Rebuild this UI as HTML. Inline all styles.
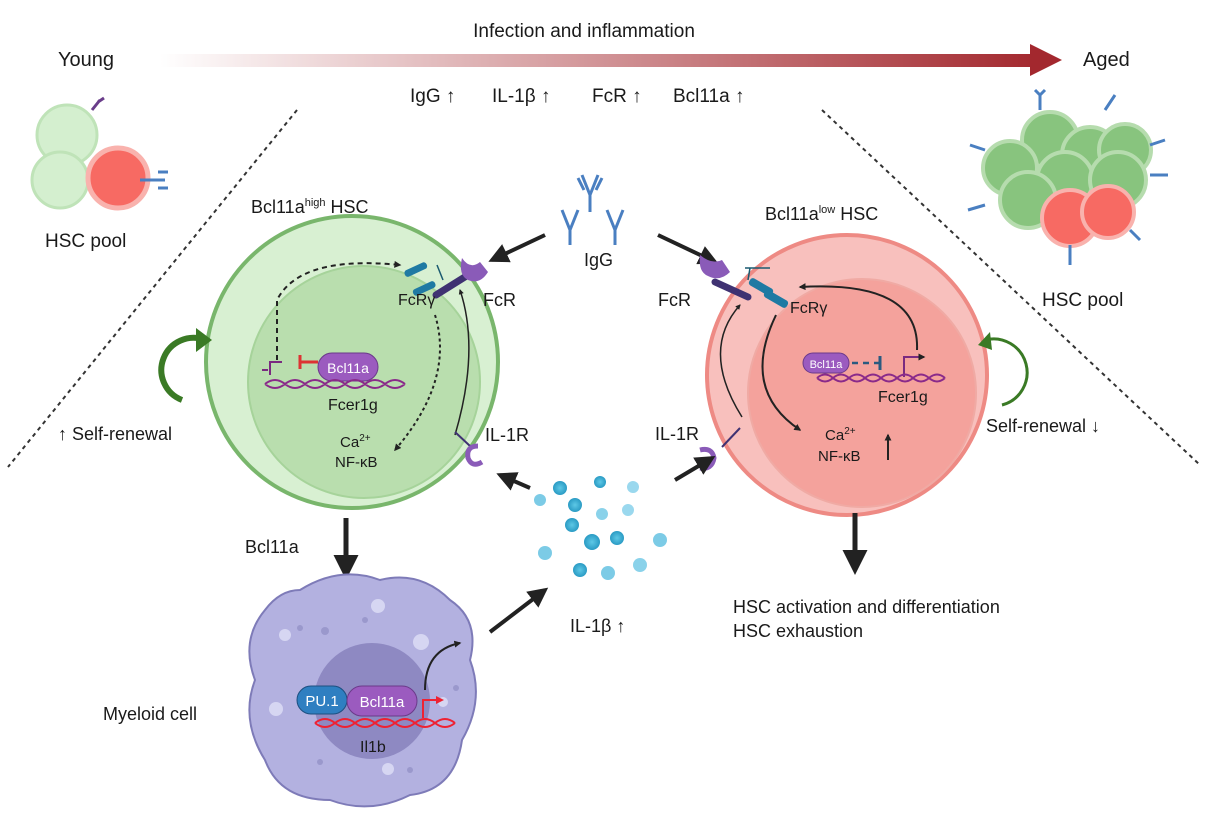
<!DOCTYPE html>
<html><head><meta charset="utf-8"><style>
html,body{margin:0;padding:0;background:#fff}
svg{display:block}
text{font-family:"Liberation Sans",sans-serif;fill:#1a1a1a}
</style></head><body>
<svg width="1205" height="821" viewBox="0 0 1205 821" xmlns="http://www.w3.org/2000/svg">
<defs>
<linearGradient id="tg" x1="0" x2="1"><stop offset="0" stop-color="#fff"/><stop offset="1" stop-color="#a3282e"/></linearGradient>
<marker id="ah" viewBox="0 0 10 10" refX="8" refY="5" markerWidth="5" markerHeight="5" orient="auto"><path d="M0,0L10,5L0,10z" fill="#222"/></marker>
<marker id="ah2" viewBox="0 0 10 10" refX="8" refY="5" markerWidth="3.5" markerHeight="3.5" orient="auto"><path d="M0,0L10,5L0,10z" fill="#222"/></marker>
<radialGradient id="dot"><stop offset="0" stop-color="#5ec8e6"/><stop offset="1" stop-color="#2a9bc4"/></radialGradient>
</defs>
<rect x="160" y="54" width="880" height="13" fill="url(#tg)"/>
<path d="M1030,44L1062,60L1030,76z" fill="#a3282e"/>
<text x="584" y="37" font-size="19" text-anchor="middle">Infection and inflammation</text>
<text x="58" y="66" font-size="20">Young</text>
<text x="1083" y="66" font-size="20">Aged</text>
<text x="410" y="102" font-size="19">IgG ↑</text>
<text x="492" y="102" font-size="19">IL-1β ↑</text>
<text x="592" y="102" font-size="19">FcR ↑</text>
<text x="673" y="102" font-size="19">Bcl11a ↑</text>
<path d="M297,110L8,467" stroke="#333" stroke-width="2" stroke-dasharray="4,4"/>
<path d="M822,110L1200,465" stroke="#333" stroke-width="2" stroke-dasharray="4,4"/>
<circle cx="67" cy="135" r="30" fill="#d4efcf" stroke="#bfe3b8" stroke-width="3"/>
<circle cx="60" cy="180" r="28" fill="#d4efcf" stroke="#bfe3b8" stroke-width="3"/>
<circle cx="118" cy="178" r="30" fill="#f76a63" stroke="#f9b2ad" stroke-width="5"/>
<path d="M92,110L100,100M98,102L104,98" stroke="#6a3d8a" stroke-width="3"/>
<path d="M140,180L165,180M158,172L168,172M158,188L168,188" stroke="#4a7fc1" stroke-width="3"/>
<text x="45" y="247" font-size="19">HSC pool</text>
<g stroke-width="4">
<circle cx="1050" cy="140" r="28" fill="#88c47e" stroke="#b6dcae"/>
<circle cx="1090" cy="155" r="28" fill="#88c47e" stroke="#b6dcae"/>
<circle cx="1125" cy="150" r="26" fill="#88c47e" stroke="#b6dcae"/>
<circle cx="1010" cy="168" r="27" fill="#88c47e" stroke="#b6dcae"/>
<circle cx="1065" cy="180" r="28" fill="#88c47e" stroke="#b6dcae"/>
<circle cx="1118" cy="180" r="28" fill="#88c47e" stroke="#b6dcae"/>
<circle cx="1028" cy="200" r="28" fill="#88c47e" stroke="#b6dcae"/>
<circle cx="1070" cy="218" r="28" fill="#f76a63" stroke="#f9b2ad"/>
<circle cx="1108" cy="212" r="26" fill="#f76a63" stroke="#f9b2ad"/>
</g>
<g stroke="#4a7fc1" stroke-width="3" fill="none">
<path d="M1040,110L1040,95M1035,90L1040,95L1045,90"/><path d="M1105,110L1115,95"/>
<path d="M985,150L970,145"/><path d="M1150,145L1165,140"/><path d="M985,205L968,210"/>
<path d="M1130,230L1140,240"/><path d="M1070,245L1070,265"/><path d="M1150,175L1168,175"/>
</g>
<text x="1042" y="306" font-size="19">HSC pool</text>
<circle cx="352" cy="362" r="146" fill="#d8f0d2" stroke="#79b66c" stroke-width="4"/>
<circle cx="364" cy="382" r="116" fill="#b9deae" stroke="#a6d39a" stroke-width="2"/>
<text x="251" y="213" font-size="18">Bcl11a<tspan font-size="11" dy="-7">high</tspan><tspan dy="7"> HSC</tspan></text>
<path d="M277,360L277,300Q300,255 400,265" stroke="#222" stroke-width="2" fill="none" stroke-dasharray="5,4" marker-end="url(#ah2)"/>
<path d="M435,315Q455,380 395,450" stroke="#222" stroke-width="2" fill="none" stroke-dasharray="3,3" marker-end="url(#ah2)"/>
<path d="M455,435Q480,350 460,290" stroke="#222" stroke-width="1.5" fill="none" marker-end="url(#ah2)"/>
<rect x="404" y="266" width="24" height="7" rx="3" fill="#1f7aa3" transform="rotate(-25 416 270)"/>
<rect x="412" y="285" width="24" height="7" rx="3" fill="#1f7aa3" transform="rotate(-25 424 288)"/>
<path d="M437,265L443,280" stroke="#1a5a70" stroke-width="1.5"/>
<path d="M436,295L468,275" stroke="#3f3272" stroke-width="7" stroke-linecap="round"/>
<path d="M462,258Q470,270 480,262L488,272Q480,285 468,280Q458,275 462,258z" fill="#8a5bb8"/>
<text x="398" y="305" font-size="16">FcRγ</text>
<text x="483" y="306" font-size="18">FcR</text>
<path d="M270,375L270,362L282,362" stroke="#7a2a80" stroke-width="2" fill="none"/>
<path d="M268,370L262,370" stroke="#7a2a80" stroke-width="2"/>
<path d="M300,362L318,362M300,355L300,369" stroke="#d33" stroke-width="3"/>
<rect x="318" y="353" width="60" height="28" rx="14" fill="#9b5bbf" stroke="#6b3a8a"/>
<text x="348" y="373" font-size="14" text-anchor="middle" style="fill:#fff">Bcl11a</text>
<path d="M265,384q10,-8 20,0t20,0t20,0t20,0t20,0t20,0t20,0M265,384q10,8 20,0t20,0t20,0t20,0t20,0t20,0t20,0" stroke="#8a2a8a" stroke-width="2" fill="none"/>
<text x="328" y="410" font-size="16">Fcer1g</text>
<text x="340" y="447" font-size="15">Ca<tspan font-size="10" dy="-6">2+</tspan></text>
<text x="335" y="467" font-size="15">NF-κB</text>
<path d="M455,432L470,446" stroke="#3f3272" stroke-width="2"/>
<path d="M478,446q-12,0 -10,12q4,10 14,4" stroke="#8a5bb8" stroke-width="5" fill="none"/>
<text x="485" y="441" font-size="18">IL-1R</text>
<path d="M205,340A30,30 0 1 0 182,400" stroke="#3a7a25" stroke-width="6" fill="none"/>
<path d="M196,328L212,340L196,352z" fill="#3a7a25"/>
<text x="58" y="440" font-size="18">↑ Self-renewal</text>
<g stroke="#4a7fc1" stroke-width="3" fill="none">
<path d="M590,195L590,212M582,175L590,195L598,175M578,178L584,190M602,178L596,190"/>
<path d="M570,230L570,245M562,210L570,230L578,210"/>
<path d="M615,230L615,245M607,210L615,230L623,210"/>
</g>
<text x="584" y="266" font-size="18">IgG</text>
<path d="M545,235L492,260" stroke="#222" stroke-width="4" marker-end="url(#ah)"/>
<path d="M658,235L715,262" stroke="#222" stroke-width="4" marker-end="url(#ah)"/>
<circle cx="847" cy="375" r="140" fill="#f8c0bd" stroke="#ee8a84" stroke-width="4"/>
<circle cx="862" cy="393" r="114" fill="#f4a29c" stroke="#f0aaa4" stroke-width="2"/>
<text x="765" y="220" font-size="18">Bcl11a<tspan font-size="11" dy="-7">low</tspan><tspan dy="7"> HSC</tspan></text>
<path d="M700,255Q712,265 722,260L730,272Q720,282 708,276Q698,272 700,255z" fill="#8a5bb8"/>
<path d="M715,282L748,297" stroke="#3f3272" stroke-width="7" stroke-linecap="round"/>
<rect x="748" y="283" width="26" height="8" rx="3" fill="#1f7aa3" transform="rotate(30 761 287)"/>
<rect x="763" y="295" width="26" height="8" rx="3" fill="#1f7aa3" transform="rotate(30 776 299)"/>
<path d="M745,268L770,268M750,268L748,280" stroke="#1a5a70" stroke-width="1.5"/>
<text x="658" y="306" font-size="18">FcR</text>
<text x="790" y="313" font-size="16">FcRγ</text>
<path d="M917,350Q920,280 800,287" stroke="#222" stroke-width="2" fill="none" marker-end="url(#ah2)"/>
<path d="M776,315Q740,390 800,430" stroke="#222" stroke-width="2" fill="none" marker-end="url(#ah2)"/>
<path d="M742,417Q700,350 740,305" stroke="#222" stroke-width="1.5" fill="none" marker-end="url(#ah2)"/>
<rect x="803" y="353" width="46" height="20" rx="10" fill="#9b5bbf" stroke="#6b3a8a"/>
<text x="826" y="368" font-size="11" text-anchor="middle" style="fill:#fff">Bcl11a</text>
<path d="M852,363L880,363" stroke="#2a5a80" stroke-width="2.5" stroke-dasharray="6,5"/>
<path d="M880,356L880,370" stroke="#2a5a80" stroke-width="3"/>
<path d="M904,377L904,357L924,357" stroke="#7a2a80" stroke-width="2" fill="none" marker-end="url(#ah2)"/>
<path d="M817,378q8,-7 16,0t16,0t16,0t16,0t16,0t16,0t16,0t16,0M817,378q8,7 16,0t16,0t16,0t16,0t16,0t16,0t16,0t16,0" stroke="#8a2a8a" stroke-width="2" fill="none"/>
<text x="878" y="402" font-size="16">Fcer1g</text>
<text x="825" y="440" font-size="15">Ca<tspan font-size="10" dy="-6">2+</tspan></text>
<text x="818" y="461" font-size="15">NF-κB</text>
<path d="M888,460L888,435" stroke="#222" stroke-width="2" marker-end="url(#ah2)"/>
<path d="M740,428L722,447" stroke="#3f3272" stroke-width="2"/>
<path d="M700,450q12,-3 14,8q-2,12 -14,10" stroke="#8a5bb8" stroke-width="5" fill="none"/>
<text x="655" y="440" font-size="18">IL-1R</text>
<path d="M985,340A30,30 0 1 1 1002,405" stroke="#3a7a25" stroke-width="3" fill="none"/>
<path d="M990,332L978,345L992,350z" fill="#3a7a25"/>
<text x="986" y="432" font-size="18">Self-renewal ↓</text>
<g fill="url(#dot)">
<circle cx="560" cy="488" r="7"/><circle cx="600" cy="482" r="6"/><circle cx="633" cy="487" r="6" fill="#9ad8ee"/>
<circle cx="540" cy="500" r="6" fill="#7ccbe6"/><circle cx="575" cy="505" r="7"/><circle cx="602" cy="514" r="6" fill="#8ad2ea"/>
<circle cx="628" cy="510" r="6" fill="#9ad8ee"/><circle cx="572" cy="525" r="7"/><circle cx="592" cy="542" r="8"/>
<circle cx="617" cy="538" r="7"/><circle cx="660" cy="540" r="7" fill="#7ccbe6"/><circle cx="545" cy="553" r="7" fill="#7ccbe6"/>
<circle cx="580" cy="570" r="7"/><circle cx="608" cy="573" r="7" fill="#7ccbe6"/><circle cx="640" cy="565" r="7" fill="#8ad2ea"/>
</g>
<text x="570" y="632" font-size="18">IL-1β ↑</text>
<path d="M530,488L500,475" stroke="#222" stroke-width="4" marker-end="url(#ah)"/>
<path d="M675,480L712,458" stroke="#222" stroke-width="4" marker-end="url(#ah)"/>
<path d="M490,632L545,590" stroke="#222" stroke-width="4" marker-end="url(#ah)"/>
<path d="M346,518L346,575" stroke="#222" stroke-width="5" marker-end="url(#ah)"/>
<text x="245" y="553" font-size="18">Bcl11a</text>
<path d="M855,513L855,570" stroke="#222" stroke-width="5" marker-end="url(#ah)"/>
<text x="733" y="613" font-size="18">HSC activation and differentiation</text>
<text x="733" y="637" font-size="18">HSC exhaustion</text>
<path d="M300,590Q340,565 380,580Q420,570 450,600Q480,620 470,660Q485,700 462,740Q455,790 410,795Q370,815 330,800Q280,800 265,760Q240,720 255,680Q240,640 265,610Q280,590 300,590z" fill="#b3b1e0" stroke="#7e7bb8" stroke-width="2"/>
<g fill="#d6d6f2"><circle cx="378" cy="606" r="7"/><circle cx="285" cy="635" r="6"/><circle cx="421" cy="642" r="8"/><circle cx="276" cy="709" r="7"/><circle cx="388" cy="769" r="6"/><circle cx="443" cy="702" r="5"/></g>
<g fill="#9a98cc"><circle cx="300" cy="628" r="3"/><circle cx="325" cy="631" r="4"/><circle cx="365" cy="620" r="3"/><circle cx="320" cy="762" r="3"/><circle cx="410" cy="770" r="3"/><circle cx="456" cy="688" r="3"/></g>
<circle cx="372" cy="701" r="58" fill="#8e89c2"/>
<text x="103" y="720" font-size="18">Myeloid cell</text>
<path d="M425,690Q425,650 460,643" stroke="#222" stroke-width="2" fill="none" marker-end="url(#ah2)"/>
<rect x="297" y="686" width="50" height="28" rx="14" fill="#2f7fc1" stroke="#1d4f80"/>
<text x="322" y="706" font-size="15" text-anchor="middle" style="fill:#fff">PU.1</text>
<rect x="347" y="686" width="70" height="30" rx="15" fill="#9b5bbf" stroke="#6b3a8a"/>
<text x="382" y="707" font-size="15" text-anchor="middle" style="fill:#fff">Bcl11a</text>
<path d="M315,723q10,-8 20,0t20,0t20,0t20,0t20,0t20,0t20,0M315,723q10,8 20,0t20,0t20,0t20,0t20,0t20,0t20,0" stroke="#e23" stroke-width="2" fill="none"/>
<path d="M423,718L423,700L440,700" stroke="#e23" stroke-width="2" fill="none"/>
<path d="M436,696L444,700L436,704z" fill="#e23"/>
<text x="360" y="752" font-size="16">Il1b</text>
</svg>
</body></html>
